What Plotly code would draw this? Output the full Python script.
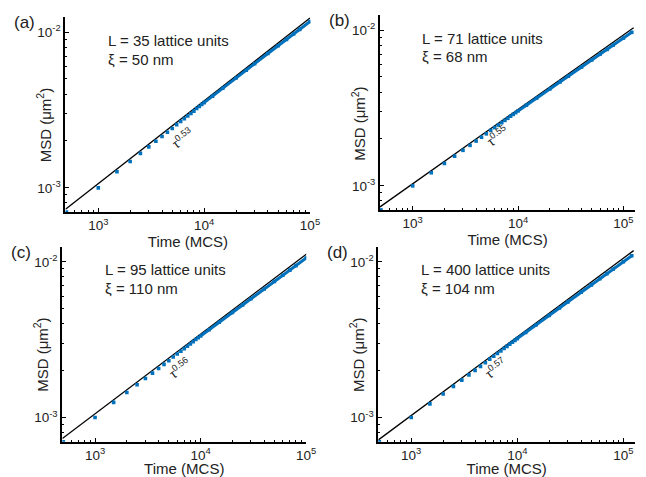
import numpy as np
import plotly.graph_objects as go

W, H = 646, 477

# Sampling times (MCS): every 500 MCS up to 1e4, coarser afterwards
times = [500, 1000, 1500, 2000, 2500, 3000, 3500, 4000, 4500, 5000,
         5500, 6000, 6500, 7000, 7500, 8000, 8500, 9000, 9500, 10000,
         12000, 15000, 20000, 25000, 30000, 40000, 50000, 60000, 70000,
         80000, 100000, 120000]

# MSD values in units of 1e-3 um^2
msd_a = [0.700, 1.000, 1.269, 1.478, 1.665, 1.834, 1.990, 2.136, 2.274, 2.405,
         2.548, 2.668, 2.784, 2.895, 3.004, 3.108, 3.232, 3.332, 3.429, 3.524,
         3.882, 4.371, 5.079, 5.691, 6.270, 7.290, 8.170, 8.980, 9.721,
         10.41, 11.69]
msd_b = [0.700, 1.000, 1.214, 1.393, 1.550, 1.691, 1.820, 1.940, 2.052, 2.158,
         2.269, 2.366, 2.458, 2.547, 2.632, 2.714, 2.800, 2.877, 2.952, 3.027,
         3.295, 3.658, 4.186, 4.647, 5.059, 5.791, 6.428, 6.998, 7.516,
         8.012, 8.892, 9.681]
msd_c = [0.700, 1.000, 1.251, 1.449, 1.624, 1.783, 1.930, 2.067, 2.194, 2.316,
         2.449, 2.560, 2.668, 2.771, 2.871, 2.967, 3.075, 3.168, 3.254, 3.342,
         3.661, 4.095, 4.732, 5.293, 5.798, 6.688, 7.480, 8.192, 8.846,
         9.450, 10.57, 11.58]
msd_d = [0.700, 1.000, 1.224, 1.416, 1.585, 1.738, 1.879, 2.010, 2.132, 2.249,
         2.371, 2.477, 2.579, 2.678, 2.773, 2.864, 2.960, 3.047, 3.132, 3.214,
         3.516, 3.926, 4.529, 5.057, 5.532, 6.369, 7.112, 7.780, 8.391,
         8.955, 10.00, 10.94]

# Power-law guide lines: (start time, end time) and MSD at both ends (1e-3 um^2)
fit_a = ([490, 100000], [0.730, 12.30])
fit_b = ([490, 125000], [0.733, 10.36])
fit_c = ([490, 120000], [0.733, 12.26])
fit_d = ([490, 125000], [0.719, 11.80])

panel_tags = ["(a)", "(b)", "(c)", "(d)"]
lattice_sizes = [35, 71, 95, 400]
xi_nm = [50, 68, 110, 104]
exponents = ["0.53", "0.55", "0.56", "0.57"]

BLUE = "#0072BD"
INK = "#222222"
FONT = "Liberation Sans, Arial, sans-serif"

# Plot-area boxes in pixels: (left, right, top, bottom) and x-range end (log10)
boxes = [(66.5, 315.3, 17, 212, 5.004),
         (386, 645, 15, 210, 5.11),
         (63.3, 311, 246.7, 441.7, 5.0),
         (384.3, 645, 246.7, 441.7, 5.11)]

fig = go.Figure()

series = [msd_a, msd_b, msd_c, msd_d]
fits = [fit_a, fit_b, fit_c, fit_d]


def txt(text, x, y, size, **kw):
    """Annotation placed by pixel position."""
    d = dict(text=text, x=x / W, y=1 - y / H, xref="paper", yref="paper",
             showarrow=False, xanchor="left", yanchor="middle",
             font=dict(family=FONT, size=size, color=INK))
    d.update(kw)
    return d


annotations = []
for i, (msd, fit, box) in enumerate(zip(series, fits, boxes)):
    n = i + 1
    xa = "x" if n == 1 else f"x{n}"
    ya = "y" if n == 1 else f"y{n}"
    t = np.array(times[:len(msd)], dtype=float)
    m = np.array(msd) * 1e-3

    # fitted power law
    fig.add_trace(go.Scatter(x=fit[0], y=np.array(fit[1]) * 1e-3, mode="lines",
                             line=dict(color="black", width=1.3),
                             xaxis=xa, yaxis=ya, showlegend=False))
    # dense tail of the simulated MSD
    tail = t >= 10000
    fig.add_trace(go.Scatter(x=t[tail], y=m[tail], mode="lines",
                             line=dict(color=BLUE, width=3),
                             xaxis=xa, yaxis=ya, showlegend=False))
    # simulated MSD points
    fig.add_trace(go.Scatter(x=t, y=m, mode="markers",
                             marker=dict(color=BLUE, size=3.6, symbol="square"),
                             xaxis=xa, yaxis=ya, showlegend=False))

    left, right, top, bottom, xend = box
    dom_x = [left / W, right / W]
    dom_y = [1 - bottom / H, 1 - top / H]
    axis_common = dict(type="log", showgrid=False, zeroline=False,
                       showline=True, linecolor="black", linewidth=2,
                       ticks="inside", ticklen=4, tickwidth=1.2, tickcolor="black",
                       minor=dict(ticks="inside", ticklen=2, tickwidth=1,
                                  tickcolor="black", dtick="D1", showgrid=False),
                       tickfont=dict(family=FONT, size=13.5, color=INK))
    fig.layout[f"xaxis{'' if n == 1 else n}"] = dict(
        axis_common, domain=dom_x, anchor=ya, range=[2.69, xend],
        tickvals=[1e3, 1e4, 1e5],
        ticktext=["10<sup>3</sup>", "10<sup>4</sup>", "10<sup>5</sup>"],
        title=dict(text="Time (MCS)", standoff=4,
                   font=dict(family=FONT, size=15, color=INK)))
    fig.layout[f"yaxis{'' if n == 1 else n}"] = dict(
        axis_common, domain=dom_y, anchor=xa, range=[-3.155, -1.903],
        tickvals=[1e-3, 1e-2],
        ticktext=["10<sup>-3</sup>", "10<sup>-2</sup>"])

    # y-axis title, set close to the axis between the tick labels
    annotations.append(txt("MSD (μm<sup>2</sup>)", left - 22, (top + bottom) / 2 + 11, 15,
                           xanchor="center", textangle=-90))
    # panel tag
    annotations.append(txt(panel_tags[i], left - 54, top + 6, 17))
    # parameter text
    annotations.append(txt(f"L = {lattice_sizes[i]} lattice units", left + 41, top + 23, 15))
    annotations.append(txt(f"ξ = {xi_nm[i]} nm", left + 41, top + 42, 15))
    # exponent label along the guide line
    annotations.append(txt(f"τ<sup>{exponents[i]}</sup>", left + 119, top + 121, 13,
                           xanchor="center", textangle=-37))

fig.update_layout(width=W, height=H, margin=dict(l=0, r=0, t=0, b=0),
                  paper_bgcolor="white", plot_bgcolor="white",
                  annotations=annotations, showlegend=False)

fig.write_html("out.html")
